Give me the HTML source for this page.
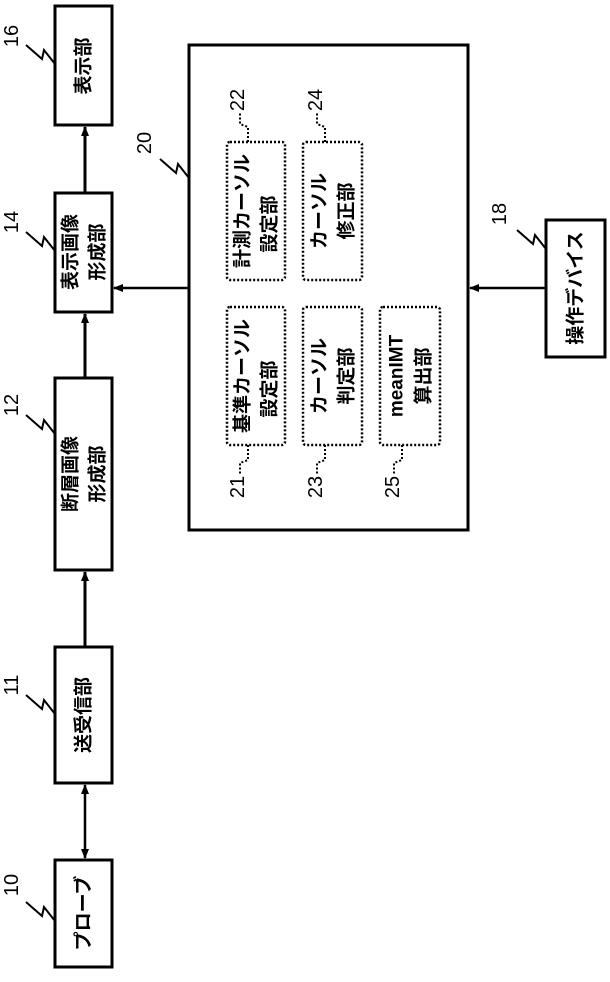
<!DOCTYPE html>
<html><head><meta charset="utf-8"><style>
html,body{margin:0;padding:0;background:#fff}
svg{display:block}
text{font-family:"Liberation Sans","Noto Sans CJK JP",sans-serif;font-weight:bold;fill:#000}
</style></head><body>
<svg width="610" height="982" viewBox="0 0 610 982" xmlns="http://www.w3.org/2000/svg">
<defs><marker id="a" markerWidth="10" markerHeight="10" refX="9" refY="5" orient="auto" markerUnits="userSpaceOnUse"><path d="M0,1 L10,5 L0,9 Z" fill="#000"/></marker>
<marker id="b" markerWidth="10" markerHeight="10" refX="1" refY="5" orient="auto" markerUnits="userSpaceOnUse"><path d="M10,1 L0,5 L10,9 Z" fill="#000"/></marker></defs>
<g fill="none" stroke="#000" stroke-width="3">
<rect x="55" y="6" width="57" height="119"/>
<rect x="55" y="193" width="57" height="119"/>
<rect x="55" y="378" width="57" height="192"/>
<rect x="55" y="647" width="57" height="136"/>
<rect x="55" y="860" width="57" height="107"/>
<rect x="189" y="45" width="279" height="485"/>
<rect x="546" y="220" width="59" height="137"/>
<line x1="85" y1="193" x2="85" y2="127" marker-end="url(#a)"/>
<line x1="85" y1="378" x2="85" y2="314" marker-end="url(#a)"/>
<line x1="85" y1="647" x2="85" y2="572" marker-end="url(#a)"/>
<line x1="85" y1="785" x2="85" y2="858" marker-start="url(#b)" marker-end="url(#a)" stroke-width="2.5"/>
<line x1="189" y1="288" x2="114" y2="288" marker-end="url(#a)" stroke-width="2.5"/>
<line x1="546" y1="288" x2="470" y2="288" marker-end="url(#a)" stroke-width="2.5"/>
</g>
<g fill="none" stroke="#000" stroke-width="2">
<polyline points="55,64 44,50 42,59 26,45"/>
<polyline points="55,251 44,237 42,246 26,232"/>
<polyline points="55,434 44,420 42,429 26,415"/>
<polyline points="55,714 44,700 42,709 26,695"/>
<polyline points="55,921 44,907 42,916 26,902"/>
<polyline points="189,178 178,164 176,173 160,159"/>
<polyline points="546,249 535,235 533,244 517,230"/>
</g>
<g fill="none" stroke="#000" stroke-width="2.5" stroke-dasharray="2,2">
<rect x="227" y="142" width="58" height="138" rx="3"/>
<rect x="303" y="142" width="59" height="138" rx="3"/>
<rect x="227" y="307" width="58" height="138" rx="3"/>
<rect x="303" y="307" width="59" height="138" rx="3"/>
<rect x="380" y="307" width="60" height="138" rx="3"/>
</g>
<g fill="none" stroke="#000" stroke-width="2" stroke-dasharray="2,2">
<polyline points="248,142 248,127 240,124 240,112"/>
<polyline points="325,142 325,127 317,124 317,112"/>
<polyline points="248,445 248,460 240,463 240,475"/>
<polyline points="325,445 325,460 317,463 317,475"/>
<polyline points="402,445 402,460 394,463 394,475"/>
</g>
<g font-size="19" text-anchor="middle" dominant-baseline="central">
<text transform="translate(84,66) rotate(-90)">表示部</text>
<text transform="translate(71,252) rotate(-90)">表示画像</text>
<text transform="translate(98,252) rotate(-90)">形成部</text>
<text transform="translate(71,474) rotate(-90)">断層画像</text>
<text transform="translate(98,474) rotate(-90)">形成部</text>
<text transform="translate(84,715) rotate(-90)">送受信部</text>
<text transform="translate(84,913) rotate(-90)">プローブ</text>
<text transform="translate(576,288) rotate(-90)">操作デバイス</text>
<text transform="translate(243,211) rotate(-90)">計測カーソル</text>
<text transform="translate(270,224) rotate(-90)">設定部</text>
<text transform="translate(320,211) rotate(-90)">カーソル</text>
<text transform="translate(347,211) rotate(-90)">修正部</text>
<text transform="translate(243,376) rotate(-90)">基準カーソル</text>
<text transform="translate(270,389) rotate(-90)">設定部</text>
<text transform="translate(320,376) rotate(-90)">カーソル</text>
<text transform="translate(347,376) rotate(-90)">判定部</text>
<text transform="translate(397,376) rotate(-90)">meanIMT</text>
<text transform="translate(424,376) rotate(-90)">算出部</text>
</g>
<g font-size="20" text-anchor="middle" dominant-baseline="central" style="font-weight:normal">
<text transform="translate(12,36) rotate(-90)" style="font-weight:normal">16</text>
<text transform="translate(12,222) rotate(-90)" style="font-weight:normal">14</text>
<text transform="translate(12,405) rotate(-90)" style="font-weight:normal">12</text>
<text transform="translate(12,685) rotate(-90)" style="font-weight:normal">11</text>
<text transform="translate(12,885) rotate(-90)" style="font-weight:normal">10</text>
<text transform="translate(145,143) rotate(-90)" style="font-weight:normal">20</text>
<text transform="translate(500,214) rotate(-90)" style="font-weight:normal">18</text>
<text transform="translate(238,100) rotate(-90)" style="font-weight:normal">22</text>
<text transform="translate(316,100) rotate(-90)" style="font-weight:normal">24</text>
<text transform="translate(238,487) rotate(-90)" style="font-weight:normal">21</text>
<text transform="translate(316,487) rotate(-90)" style="font-weight:normal">23</text>
<text transform="translate(393,487) rotate(-90)" style="font-weight:normal">25</text>
</g>
</svg>
</body></html>
